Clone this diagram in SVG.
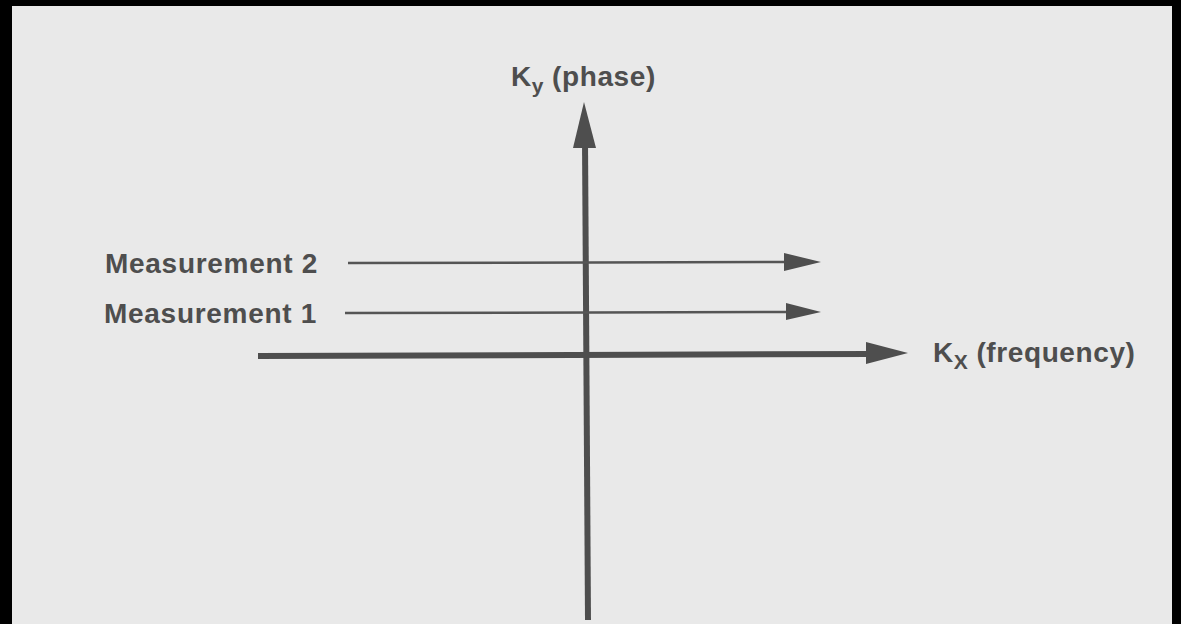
<svg xmlns="http://www.w3.org/2000/svg" width="1181" height="624" viewBox="0 0 1181 624">
<style>
.lbl{font-family:"Liberation Sans",Arial,sans-serif;font-weight:bold;fill:#4e4e4e;font-size:28px;letter-spacing:0.6px}
.sub{font-size:21px}
.ax{stroke:#4e4e4e;stroke-width:6;fill:none}
.ms{stroke:#555;stroke-width:2.5;fill:none}
.head{fill:#4e4e4e}
</style>
<rect width="1181" height="624" fill="#000"/>
<rect x="12" y="6" width="1160" height="618" fill="#e9e9e9"/>
<g id="connectors">
<line class="ax" x1="588" y1="620" x2="585" y2="140"/>
<polygon class="head" points="584,102 573,148 596,148"/>
<line class="ax" x1="258" y1="356" x2="870" y2="354"/>
<polygon class="head" points="908,353 866,342 866,364"/>
<line class="ms" x1="348" y1="263" x2="790" y2="262"/>
<polygon class="head" points="821,262 784,253 784,271"/>
<line class="ms" x1="345" y1="313" x2="790" y2="312"/>
<polygon class="head" points="821,312 786,303 786,320"/>
</g>
<g id="label-ky"><text class="lbl" x="511" y="86">K<tspan class="sub" dy="7">y</tspan><tspan dy="-7" dx="8">(phase)</tspan></text></g>
<g id="label-m2"><text class="lbl" x="105" y="273" textLength="213" lengthAdjust="spacing">Measurement 2</text></g>
<g id="label-m1"><text class="lbl" x="104" y="323" textLength="213" lengthAdjust="spacing">Measurement 1</text></g>
<g id="label-kx"><text class="lbl" x="933" y="362">K<tspan class="sub" dy="7">X</tspan><tspan dy="-7" dx="8">(frequency)</tspan></text></g>
</svg>
